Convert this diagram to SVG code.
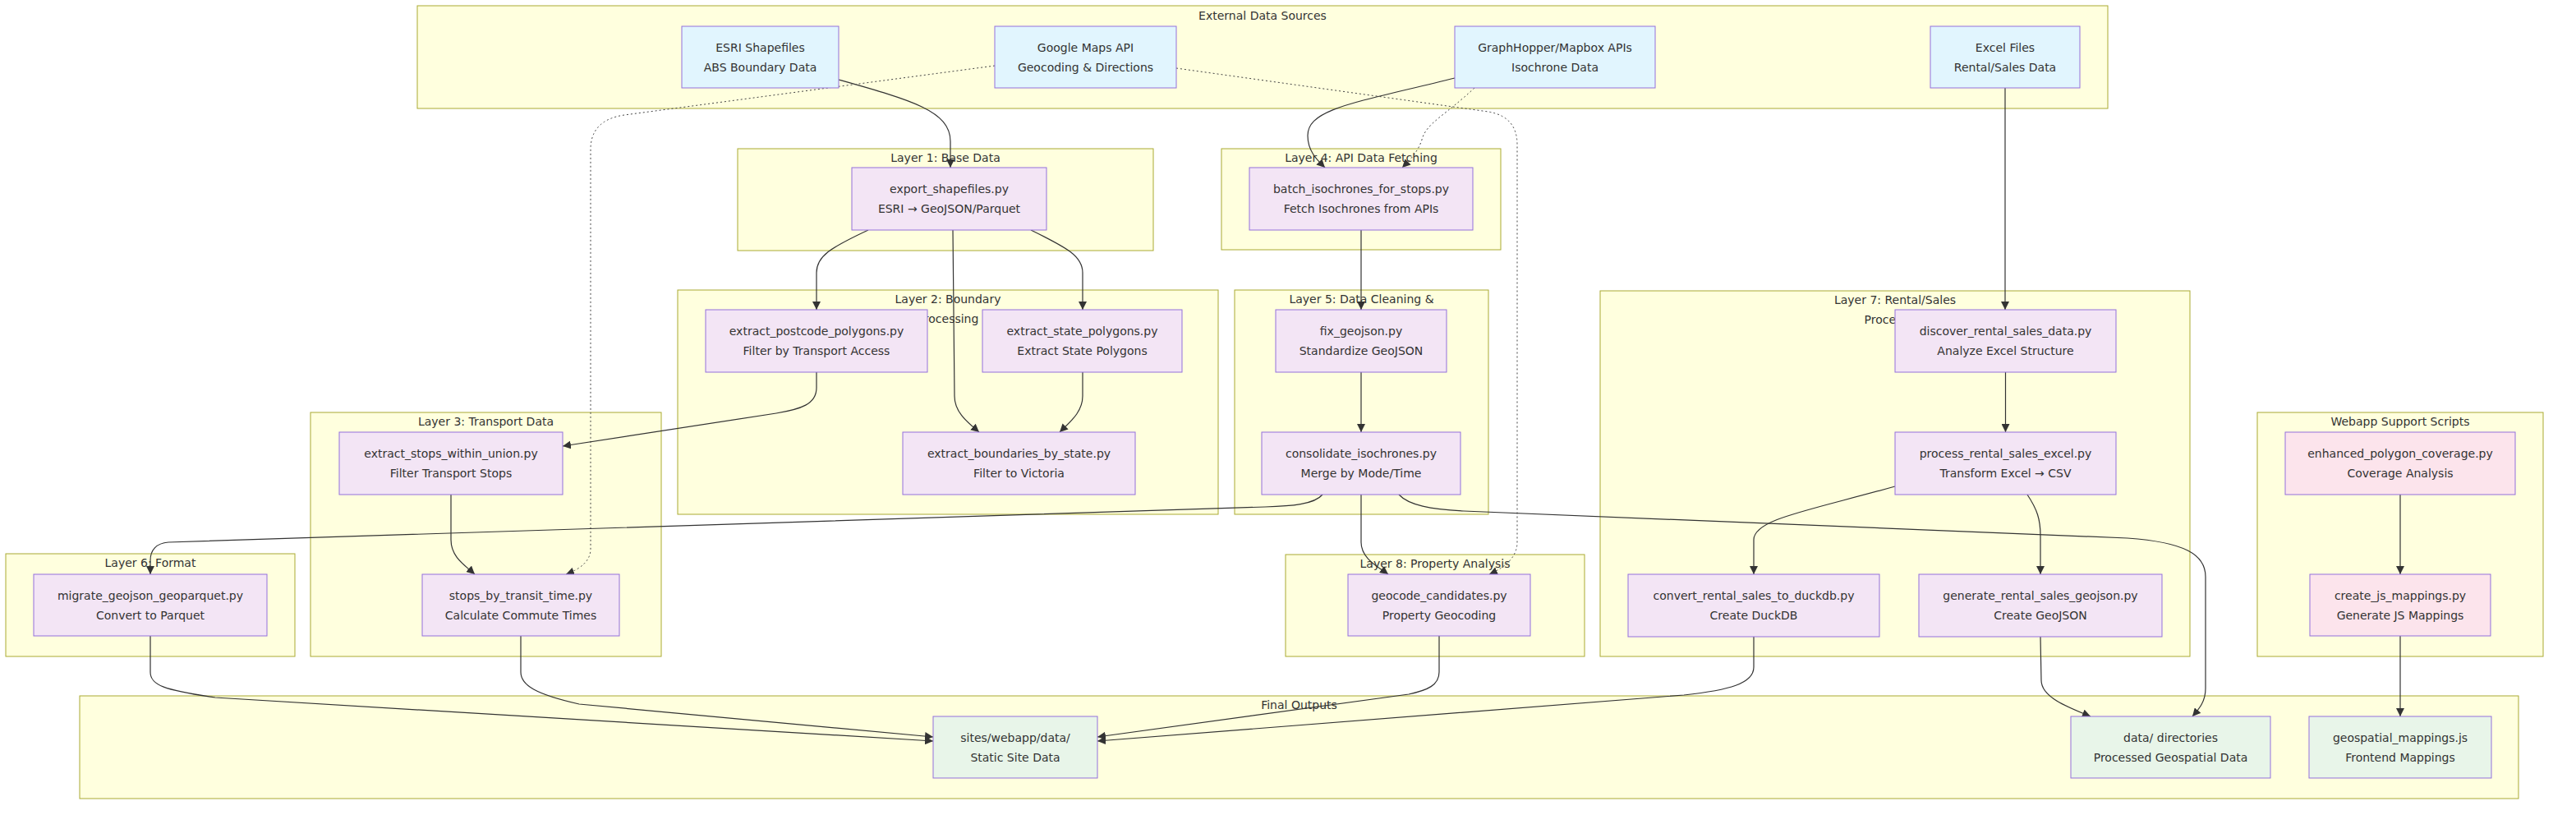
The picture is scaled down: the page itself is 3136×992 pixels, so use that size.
<svg xmlns="http://www.w3.org/2000/svg" width="3136" height="992" viewBox="0 0 3136 992">
<defs>
<style>
.bg{fill:#ffffff}
.cl{fill:#ffffde;stroke:#aaaa33;stroke-width:1}
.ct{font-family:"DejaVu Sans",sans-serif;font-size:14px;fill:#333;text-anchor:middle}
.n rect{stroke:#9370db;stroke-width:1}
.n text{font-family:"DejaVu Sans",sans-serif;font-size:14px;fill:#333;text-anchor:middle}
.ext rect{fill:#e1f5fe}
.scr rect{fill:#f3e5f5}
.web rect{fill:#fce4ec}
.out rect{fill:#e8f5e9}
.e{fill:none;stroke:#333;stroke-width:1.2}
.d{fill:none;stroke:#444;stroke-width:1;stroke-dasharray:2,3}
</style>
<marker id="ah" viewBox="0 0 10 10" refX="10" refY="5" markerUnits="userSpaceOnUse" markerWidth="10" markerHeight="10" orient="auto">
<path d="M0,0 L10,5 L0,10 z" fill="#333"/>
</marker>
</defs>
<rect class="bg" x="0" y="0" width="3136" height="992"/>

<g id="clusters">
<g id="c-external"><rect class="cl" x="508" y="7" width="2058" height="125"/><text class="ct" x="1537" y="24">External Data Sources</text></g>
<g id="c-layer1"><rect class="cl" x="898" y="181" width="506" height="124"/><text class="ct" x="1151" y="197">Layer 1: Base Data</text></g>
<g id="c-layer2"><rect class="cl" x="825" y="353" width="658" height="273"/><text class="ct" x="1154" y="369">Layer 2: Boundary</text><text class="ct" x="1154" y="393">Processing</text></g>
<g id="c-layer3"><rect class="cl" x="378" y="502" width="427" height="297"/><text class="ct" x="591.5" y="518">Layer 3: Transport Data</text></g>
<g id="c-layer4"><rect class="cl" x="1487" y="181" width="340" height="123"/><text class="ct" x="1657" y="197">Layer 4: API Data Fetching</text></g>
<g id="c-layer5"><rect class="cl" x="1503" y="353" width="309" height="273"/><text class="ct" x="1657.5" y="369">Layer 5: Data Cleaning &amp;</text></g>
<g id="c-layer6"><rect class="cl" x="7" y="674" width="352" height="125"/><text class="ct" x="183" y="690">Layer 6: Format</text></g>
<g id="c-layer7"><rect class="cl" x="1948" y="354" width="718" height="445"/><text class="ct" x="2307" y="370">Layer 7: Rental/Sales</text><text class="ct" x="2307" y="394">Processing</text></g>
<g id="c-layer8"><rect class="cl" x="1565" y="675" width="364" height="124"/><text class="ct" x="1747" y="691">Layer 8: Property Analysis</text></g>
<g id="c-webapp"><rect class="cl" x="2748" y="502" width="348" height="297"/><text class="ct" x="2922" y="518">Webapp Support Scripts</text></g>
<g id="c-final"><rect class="cl" x="97" y="847" width="2969" height="125"/><text class="ct" x="1581.5" y="863">Final Outputs</text></g>
</g>

<g id="edges">
<path class="e" marker-end="url(#ah)" d="M1021,97 C1110,122 1157,135 1157,172 L1157,204"/>
<path class="d" marker-end="url(#ah)" d="M1211,80 L760,140 Q719,146 719,182 L719,668 Q719,688 689,699"/>
<path class="d" marker-end="url(#ah)" d="M1432,83 L1812,136 Q1847,142 1847,176 L1847,660 Q1847,684 1813,699"/>
<path class="e" marker-end="url(#ah)" d="M1771,95 C1650,125 1592,132 1592,165 C1592,185 1605,196 1613,204"/>
<path class="d" marker-end="url(#ah)" d="M1795,107 C1760,140 1736,150 1731,170 C1726,186 1714,197 1707,204"/>
<path class="e" marker-end="url(#ah)" d="M2441,107 L2441,377"/>
<path class="e" marker-end="url(#ah)" d="M1057,280 C1010,302 994,312 994,332 L994,377"/>
<path class="e" marker-end="url(#ah)" d="M1255,280 C1300,302 1318,312 1318,332 L1318,377"/>
<path class="e" marker-end="url(#ah)" d="M1160,280 L1162,482 C1162,502 1178,514 1192,526"/>
<path class="e" marker-end="url(#ah)" d="M1318,453 L1318,482 C1318,502 1302,514 1290,526"/>
<path class="e" marker-end="url(#ah)" d="M994,453 L994,472 C994,492 975,498 945,503 L685,543"/>
<path class="e" marker-end="url(#ah)" d="M549,602 L549,657 C549,678 566,688 578,699"/>
<path class="e" marker-end="url(#ah)" d="M1657,280 L1657,377"/>
<path class="e" marker-end="url(#ah)" d="M1657,453 L1657,526"/>
<path class="e" marker-end="url(#ah)" d="M1610,602 C1600,614 1572,616 1540,617 L205,660 C190,661 183,670 183,682 L183,699"/>
<path class="e" marker-end="url(#ah)" d="M1657,602 L1657,660 C1657,680 1678,690 1690,699"/>
<path class="e" marker-end="url(#ah)" d="M1703,602 C1715,615 1742,620 1782,622 L2590,655 C2660,660 2685,675 2685,702 L2685,838 C2685,855 2676,864 2669,872"/>
<path class="e" marker-end="url(#ah)" d="M2441.5,453 L2441.5,526"/>
<path class="e" marker-end="url(#ah)" d="M2307,592 C2200,622 2135,632 2135,657 L2135,699"/>
<path class="e" marker-end="url(#ah)" d="M2468,602 C2480,620 2484,632 2484,652 L2484,699"/>
<path class="e" marker-end="url(#ah)" d="M2922,602 L2922,699"/>
<path class="e" marker-end="url(#ah)" d="M2922,774 L2922,872"/>
<path class="e" marker-end="url(#ah)" d="M2484,775 L2485,828 C2485,848 2515,860 2545,872"/>
<path class="e" marker-end="url(#ah)" d="M2135,775 L2135,812 C2135,832 2105,840 2050,846 L1336,902"/>
<path class="e" marker-end="url(#ah)" d="M1752,774 L1752,818 C1752,834 1738,840 1715,845 L1336,897"/>
<path class="e" marker-end="url(#ah)" d="M183,774 L183,818 C183,834 200,840 262,849 L1136,902"/>
<path class="e" marker-end="url(#ah)" d="M634,774 L634,818 C634,834 652,845 705,857 L1136,897"/>
</g>

<g id="nodes">
<g id="esri" class="n ext"><rect x="830" y="32" width="191" height="75"/><text x="925.5" y="62.5">ESRI Shapefiles</text><text x="925.5" y="86.5">ABS Boundary Data</text></g>
<g id="google" class="n ext"><rect x="1211" y="32" width="221" height="75"/><text x="1321.5" y="62.5">Google Maps API</text><text x="1321.5" y="86.5">Geocoding &amp; Directions</text></g>
<g id="graphhopper" class="n ext"><rect x="1771" y="32" width="244" height="75"/><text x="1893" y="62.5">GraphHopper/Mapbox APIs</text><text x="1893" y="86.5">Isochrone Data</text></g>
<g id="excel" class="n ext"><rect x="2350" y="32" width="182" height="75"/><text x="2441" y="62.5">Excel Files</text><text x="2441" y="86.5">Rental/Sales Data</text></g>

<g id="export" class="n scr"><rect x="1037" y="204" width="237" height="76"/><text x="1155.5" y="235">export_shapefiles.py</text><text x="1155.5" y="259">ESRI → GeoJSON/Parquet</text></g>
<g id="postcode" class="n scr"><rect x="859" y="377" width="270" height="76"/><text x="994" y="408">extract_postcode_polygons.py</text><text x="994" y="432">Filter by Transport Access</text></g>
<g id="state" class="n scr"><rect x="1196" y="377" width="243" height="76"/><text x="1317.5" y="408">extract_state_polygons.py</text><text x="1317.5" y="432">Extract State Polygons</text></g>
<g id="boundaries" class="n scr"><rect x="1099" y="526" width="283" height="76"/><text x="1240.5" y="557">extract_boundaries_by_state.py</text><text x="1240.5" y="581">Filter to Victoria</text></g>
<g id="stops_union" class="n scr"><rect x="413" y="526" width="272" height="76"/><text x="549" y="557">extract_stops_within_union.py</text><text x="549" y="581">Filter Transport Stops</text></g>
<g id="stops_transit" class="n scr"><rect x="514" y="699" width="240" height="75"/><text x="634" y="729.5">stops_by_transit_time.py</text><text x="634" y="753.5">Calculate Commute Times</text></g>
<g id="batch" class="n scr"><rect x="1521" y="204" width="272" height="76"/><text x="1657" y="235">batch_isochrones_for_stops.py</text><text x="1657" y="259">Fetch Isochrones from APIs</text></g>
<g id="fix" class="n scr"><rect x="1553" y="377" width="208" height="76"/><text x="1657" y="408">fix_geojson.py</text><text x="1657" y="432">Standardize GeoJSON</text></g>
<g id="consolidate" class="n scr"><rect x="1536" y="526" width="242" height="76"/><text x="1657" y="557">consolidate_isochrones.py</text><text x="1657" y="581">Merge by Mode/Time</text></g>
<g id="migrate" class="n scr"><rect x="41" y="699" width="284" height="75"/><text x="183" y="729.5">migrate_geojson_geoparquet.py</text><text x="183" y="753.5">Convert to Parquet</text></g>
<g id="discover" class="n scr"><rect x="2307" y="377" width="269" height="76"/><text x="2441.5" y="408">discover_rental_sales_data.py</text><text x="2441.5" y="432">Analyze Excel Structure</text></g>
<g id="process" class="n scr"><rect x="2307" y="526" width="269" height="76"/><text x="2441.5" y="557">process_rental_sales_excel.py</text><text x="2441.5" y="581">Transform Excel → CSV</text></g>
<g id="convert" class="n scr"><rect x="1982" y="699" width="306" height="76"/><text x="2135" y="730">convert_rental_sales_to_duckdb.py</text><text x="2135" y="754">Create DuckDB</text></g>
<g id="generate" class="n scr"><rect x="2336" y="699" width="296" height="76"/><text x="2484" y="730">generate_rental_sales_geojson.py</text><text x="2484" y="754">Create GeoJSON</text></g>
<g id="geocode" class="n scr"><rect x="1641" y="699" width="222" height="75"/><text x="1752" y="729.5">geocode_candidates.py</text><text x="1752" y="753.5">Property Geocoding</text></g>
<g id="enhanced" class="n web"><rect x="2782" y="526" width="280" height="76"/><text x="2922" y="557">enhanced_polygon_coverage.py</text><text x="2922" y="581">Coverage Analysis</text></g>
<g id="createjs" class="n web"><rect x="2812" y="699" width="220" height="75"/><text x="2922" y="729.5">create_js_mappings.py</text><text x="2922" y="753.5">Generate JS Mappings</text></g>

<g id="sites" class="n out"><rect x="1136" y="872" width="200" height="75"/><text x="1236" y="902.5">sites/webapp/data/</text><text x="1236" y="926.5">Static Site Data</text></g>
<g id="datadir" class="n out"><rect x="2521" y="872" width="243" height="75"/><text x="2642.5" y="902.5">data/ directories</text><text x="2642.5" y="926.5">Processed Geospatial Data</text></g>
<g id="geomap" class="n out"><rect x="2811" y="872" width="222" height="75"/><text x="2922" y="902.5">geospatial_mappings.js</text><text x="2922" y="926.5">Frontend Mappings</text></g>
</g>
</svg>
